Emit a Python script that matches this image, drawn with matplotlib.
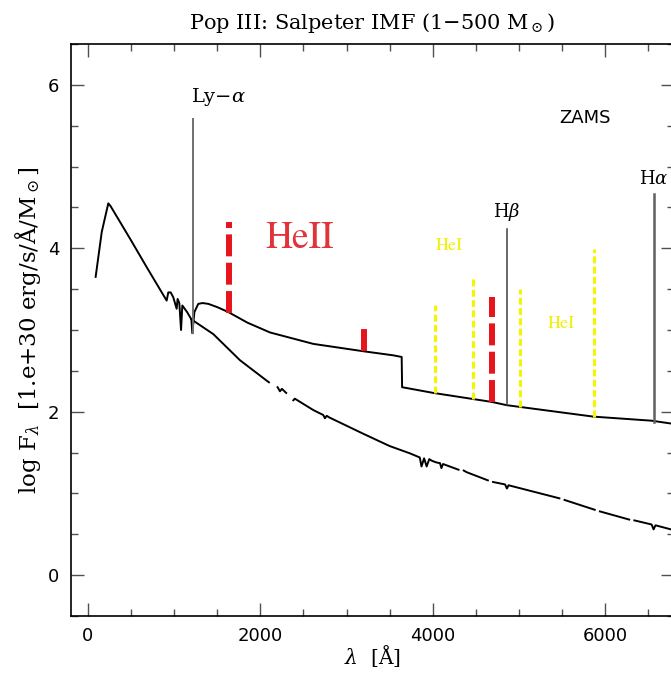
import numpy as np
import matplotlib
matplotlib.use("Agg")
import matplotlib.pyplot as plt

plt.rcParams['mathtext.fontset'] = 'dejavuserif'
plt.rcParams['lines.scale_dashes'] = False

nan = np.nan
# Upper curve: stellar + nebular (ZAMS)
lam_upper = [89, 160, 236, 260, 487, 681, 913, 932, 960, 990, 1029, 1040, 1060, 1080, 1095,
             1150, 1200, 1211, 1235, 1280, 1330, 1396, 1500, 1628, 1850, 2112, 2615, 3195,
             3543, 3640, 3645, 4007, 4685, 4859, 5864, 6541, 6800]
flux_upper = [3.65, 4.20, 4.55, 4.52, 4.12, 3.77, 3.36, 3.46, 3.46, 3.40, 3.26, 3.38, 3.33, 3.00, 3.30,
              3.22, 3.13, 2.96, 3.22, 3.32, 3.33, 3.32, 3.28, 3.22, 3.09, 2.97, 2.83, 2.74,
              2.69, 2.67, 2.30, 2.23, 2.12, 2.08, 1.94, 1.89, 1.85]

# Lower curve: pure stellar continuum (with data gaps)
lam_lower = [1200, 1454, 1764, 2074, 2100, 2130, 2200, 2228, 2250, 2300, 2330, 2383, 2400, 2615,
             2730, 2750, 2770, 2800, 3195, 3500, 3737, 3850, 3870, 3900,
             3930, 3960, 3990, 4040, 4085, 4101, 4120, 4300, 4320, 4360, 4394, 4640, 4660, 4700,
             4840, 4861, 4880, 5360, 5470, 5490, 5530, 5880, 5900, 5940, 6280, 6300, 6340, 6540,
             6563, 6585, 6800]
flux_lower = [3.13, 2.95, 2.63, 2.38, 2.36, nan, 2.30, 2.25, 2.28, 2.23, nan, 2.14, 2.16, 2.02,
              1.96, 1.92, 1.95, 1.93, 1.73, 1.58, 1.49, 1.44, 1.33, 1.43,
              1.33, 1.42, 1.40, 1.38, 1.37, 1.31, 1.36, 1.29, nan, 1.28, 1.26, 1.16, nan, 1.14,
              1.11, 1.06, 1.10, 0.97, 0.94, nan, 0.92, 0.80, nan, 0.78, 0.68, nan, 0.67, 0.62,
              0.56, 0.61, 0.55]

# Hydrogen emission lines (gray)
h_lam = [1216, 4861, 6563]
h_top = [5.58, 4.24, 4.66]
h_bottom = [2.96, 2.08, 1.88]
h_labels = [r'Ly$-\alpha$', r'H$\beta$', r'H$\alpha$']

# HeII lines (red)
heii_lam = [1640, 3203, 4686]
heii_top = [4.32, 3.03, 3.41]

# HeI lines (yellow)
hei_lam = [4026, 4471, 5016, 5876]
hei_top = [3.31, 3.63, 3.50, 3.99]

fig = plt.figure(figsize=(6.71, 6.73), dpi=100)
ax = fig.add_axes([0.1054, 0.0847, 0.8991, 0.8499])

ax.plot(lam_upper, flux_upper, color='black', lw=1.4, zorder=3)
ax.plot(lam_lower, flux_lower, color='black', lw=1.4, zorder=3)

h_colors = ['#707070', '#404040', '#606060']
h_lw = [1.4, 1.1, 1.8]
for lam, top, bot, c, w in zip(h_lam, h_top, h_bottom, h_colors, h_lw):
    ax.plot([lam, lam], [bot, top], color=c, lw=w, zorder=4)

for lam, top in zip(heii_lam, heii_top):
    bot = np.interp(lam, lam_upper, flux_upper)
    ax.plot([lam, lam], [bot, top], color='#e8141c', lw=4.3, zorder=5,
            linestyle=(0, (15.8, 4.6)), dash_capstyle='butt')

for lam, top in zip(hei_lam, hei_top):
    bot = np.interp(lam, lam_upper, flux_upper)
    ax.plot([lam, lam], [bot, top], color='#f5f500', lw=2.2, zorder=5,
            linestyle=(0, (5.0, 2.4)), dash_capstyle='butt')

serif = 'DejaVu Serif'
times = 'STIXGeneral'
ax.text(1190, 5.85, h_labels[0], fontsize=14, family=serif, ha='left', va='center')
ax.text(4861, 4.44, h_labels[1], fontsize=13, family=serif, ha='center', va='center')
ax.text(6563, 4.85, h_labels[2], fontsize=13, family=serif, ha='center', va='center')
ax.text(5768, 5.60, 'ZAMS', fontsize=13, family='DejaVu Sans', ha='center', va='center')
ax.text(2460, 4.12, 'HeII', fontsize=27, family=times, color='#e0343a', ha='center', va='center')
ax.text(4190, 4.03, 'HeI', fontsize=13, family=times, color='#f0f000', ha='center', va='center')
ax.text(5489, 3.07, 'HeI', fontsize=13, family=times, color='#f0f000', ha='center', va='center')

ax.set_xlim(-200, 6800)
ax.set_ylim(-0.5, 6.5)
ax.set_xticks([0, 2000, 4000, 6000])
ax.set_xticks(np.arange(0, 7000, 500), minor=True)
ax.set_yticks([0, 2, 4, 6])
ax.set_yticks(np.arange(-0.5, 6.6, 0.5), minor=True)
ax.tick_params(which='both', direction='in', top=True, right=True, color='#505050', width=1.0)
ax.tick_params(which='major', length=9.5, labelsize=13, pad=8)
ax.tick_params(which='minor', length=5)
for lab in ax.get_xticklabels() + ax.get_yticklabels():
    lab.set_family('DejaVu Sans')
for s in ax.spines.values():
    s.set_linewidth(1.2)

ax.set_xlabel(r'$\lambda$  [Å]', fontsize=14.5, family=serif)
ax.xaxis.set_label_coords(0.5, -0.048)
ax.set_ylabel(r'log F$_\lambda$  [1.e+30 erg/s/Å/M$_\odot$]', fontsize=16.5, family=serif, labelpad=4)
ax.set_title(r'Pop III: Salpeter IMF (1$-$500 M$_\odot$)', fontsize=15, family=serif, pad=11)

fig.savefig('out.png', dpi=100)
